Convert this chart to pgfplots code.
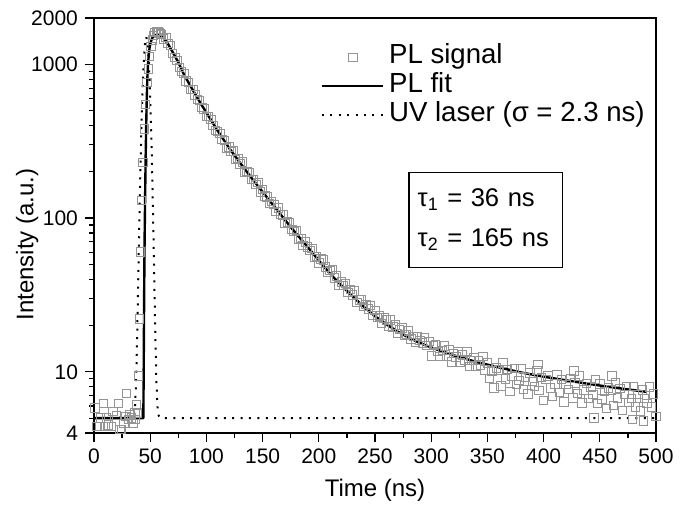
\documentclass[border=0pt]{standalone}
\usepackage{fontspec}
\setmainfont{Liberation Sans}
\usepackage{pgfplots}
\pgfplotsset{compat=1.18}
\pgfplotsset{
 lineleg/.style={legend image code/.code={\draw[##1] (0pt,0pt) -- (30.5pt,0pt);}},
 markleg/.style={legend image code/.code={\draw[##1] plot coordinates {(15.5pt,0pt)};\path[draw=none,fill=none] (0pt,0pt) rectangle (30.5pt,0.1pt);}},
}
\pgfplotstableread{
t I
0.9 5.8
2 4.4
4.7 4.4
6 5.0
8.3 6.25
10 4.4
11.3 5.0
13 4.5
15.7 4.4
17 5.5
20.2 5.2
21.6 6.2
23 4.2
24.6 4.2
26.7 4.6
28 5.1
29.1 7.25
30.5 4.9
32 5.3
33.5 5.0
35 4.6
36.5 5.4
37 4.9
38 6.1
38.5 5.4
39.5 9.4
40.7 22
41.5 60
42.3 130
43.5 230
44.8 380
46.0 550
47.2 760
48.4 930
49.6 1120
50.8 1300
52.0 1440
53.2 1540
54.4 1610
55.6 1640
56.8 1630
58.0 1600
59.2 1570
60 1569
62 1458
64 1489
66 1366
68 1321
70 1171
72 1102
74 1058
76 954
78 898
80 870
82 779
84 761
86 687
88 688
90 632
92 590
94 584
96 523
98 513
100 456
102 456
104 437
106 400
108 371
110 364
112 356
114 323
116 318
118 285
120 290
122 272
124 273
126 241
128 245
130 224
132 231
134 199
136 200
138 197
140 178
142 178
144 166
146 170
148 148
150 153
152 139
154 137
156 124
158 128
160 122
162 110
164 116
166 105
168 104.5
170 91.8
172 94.1
174 93.8
176 83.9
178 82.0
180 82.8
182 73.3
184 73.9
186 66.6
188 69.9
190 65
192 61.4
194 63.2
196 55.8
198 56.3
200 50.9
202 54.3
204 53.3
206 48.1
208 44.5
210 45.6
212 46.4
214 40.8
216 42.1
218 36.5
220 38.5
222 36.4
224 37.5
226 32.7
228 34.3
230 31.5
232 33.6
234 28.3
236 29.3
238 29.5
240 26.5
242 27.5
244 25.6
246 27.0
248 23.2
250 25.0
252 22.6
254 23.0
256 20.7
258 22.4
260 21.7
262 19.7
264 21.7
266 19.6
268 20.2
270 17.7
272 18.9
274 19.3
276 17.4
278 17.5
280 18.4
282 16.3
284 17.0
286 15.5
288 17.0
290 16.0
292 15.4
294 16.7
296 14.8
298 15.7
300 12.7
302 14.8
304 15.1
306 13.6
308 12.6
310 13.8
312 14.7
314 12.6
316 13.9
318 11.6
320 13.1
322 12.5
324 13.6
326 11.5
328 12.9
330 11.8
332 13.5
334 10.8
336 11.8
338 12.4
340 10.9
342 11.9
344 11.1
346 12.6
348 10.3
350 11.4
352 9.07
354 10.1
356 7.83
358 10.6
360 10.3
362 8.07
364 11.4
366 9.0
368 10.4
370 7.42
372 9.4
374 10.5
376 8.25
378 8.78
380 10.5
382 7.68
384 9.19
386 7.19
388 9.85
390 8.64
392 8.01
394 10.2
395 11.2
396 7.54
398 9.17
400 6.51
402 8.88
404 9.38
406 7.87
408 6.92
410 8.33
412 9.54
414 7.34
416 8.9
418 6.37
420 8.27
422 7.70
424 9.06
426 6.76
427 10.1
428 8.45
430 7.2
432 9.38
434 6.28
436 7.6
438 8.4
440 6.68
442 7.98
444 7.11
445 5.0
446 8.89
448 6.22
450 8.31
452 6.65
454 7.42
456 5.78
458 7.83
460 7.63
461 9.4
462 6.02
464 8.51
466 6.75
468 7.81
470 5.6
472 7.12
474 8.01
476 6.29
478 6.72
479 4.9
480 8.06
482 5.9
484 7.09
486 5.56
488 7.63
489 4.8
490 6.7
492 6.23
494 7.98
496 5.89
498 7.18
500 5.11
}\signal
\pgfplotstableread{
t I
0 5
43.9 5
44.2 10
44.6 30
45.0 70
45.5 140
46.0 260
46.5 420
47.0 620
47.5 820
48.0 980
48.7 1150
49.5 1290
50.5 1400
52 1490
54 1540
56 1560
58 1555
60 1525
63 1450
66 1350
70 1200
75 1030
80 860
85 740
90 640
95 555
100 485
110 370
120 287
130 228
140 183
150 148
160 120
170 97
180 79
190 65
200 53
210 43.5
220 36.5
230 31
240 26.5
250 23
260 20.4
270 18.3
280 16.7
290 15.4
300 14.4
320 12.8
340 11.6
360 10.7
380 9.9
400 9.3
420 8.8
440 8.35
460 7.95
480 7.6
492 7.4
}\fit
\pgfplotstableread{
t I
0 5
34.5 5.05
35.5 5.2
36.5 5.9
37.5 8.75
38.5 18.2
39.5 45
40.5 109
41.5 241
42.5 465
43.5 776
44.5 1121
45.5 1398
46.5 1505
47.5 1398
48.5 1121
49.5 776
50.5 465
51.5 241
52.5 109
53.5 45
54.5 18.2
55.5 8.75
56.5 5.9
57.5 5.2
58.5 5.05
60 5
500 5
}\laser
\begin{document}
\begin{tikzpicture}
\begin{axis}[
 name=ax,
 scale only axis, width=281pt, height=207.5pt,
 xmin=0, xmax=500, ymin=4, ymax=2000, ymode=log,
 xtick={0,50,...,500}, minor xtick={25,75,...,475},
 ytick={4,10,100,1000,2000}, yticklabels={4,10,100,1000,2000},
 minor ytick={5,6,7,8,9,20,30,40,50,60,70,80,90,200,300,400,500,600,700,800,900},
 tick align=outside, tick pos=left,
 major tick length=4.5pt, minor tick length=2.5pt,
 every tick/.style={black, line width=0.6pt},
 axis line style={line width=0.9pt},
 tick label style={font=\fontsize{10.5}{12}\selectfont},
 /pgf/number format/assume math mode=true,
 xlabel={Time (ns)}, ylabel={Intensity (a.u.)},
 xlabel style={font=\fontsize{12}{14}\selectfont, at={(axis description cs:0.5,-0.1373)}, anchor=center},
 ylabel style={font=\fontsize{12}{14}\selectfont, at={(axis description cs:-0.119,0.454)}, anchor=center},
 legend style={at={(axis description cs:0.4034,0.940)}, anchor=north west,
   draw=none, fill=none, inner sep=0pt, outer sep=0pt,
   font=\fontsize{13.8}{16}\selectfont,
   nodes={inner xsep=0pt, inner ysep=0.465pt, text height=10pt, text depth=3.5pt}},
 legend cell align=left,
]
\addplot[only marks, mark=square, mark size=2.1pt, draw=black!42, line width=0.5pt, markleg]
  table[x=t,y=I] {\signal};
\addlegendentry{\hspace{2.5pt}PL signal}
\addplot[black, line width=1.2pt, line join=round, lineleg]
  table[x=t,y=I] {\fit};
\addlegendentry{\hspace{2.5pt}PL fit}
\addplot[black, line width=1pt, dash pattern=on 1pt off 3.2pt, lineleg]
  table[x=t,y=I] {\laser};
\addlegendentry{\hspace{2.5pt}UV laser (σ = 2.3 ns)}
\node[draw, line width=0.65pt, anchor=north west, minimum width=76.7pt,
  minimum height=47.5pt, inner xsep=4.35pt, inner ysep=0pt, text width=68pt,
  align=left, font=\fontsize{12.8}{20}\selectfont]
  at (axis description cs:0.5593,0.6296)
  {τ\textsubscript{1} = 36 ns\\τ\textsubscript{2} = 165 ns};
\end{axis}
\pgfresetboundingbox
\path[use as bounding box] ([xshift=-47pt,yshift=-36.5pt]ax.south west) rectangle ([xshift=14.5pt,yshift=9pt]ax.north east);
\end{tikzpicture}
\end{document}
